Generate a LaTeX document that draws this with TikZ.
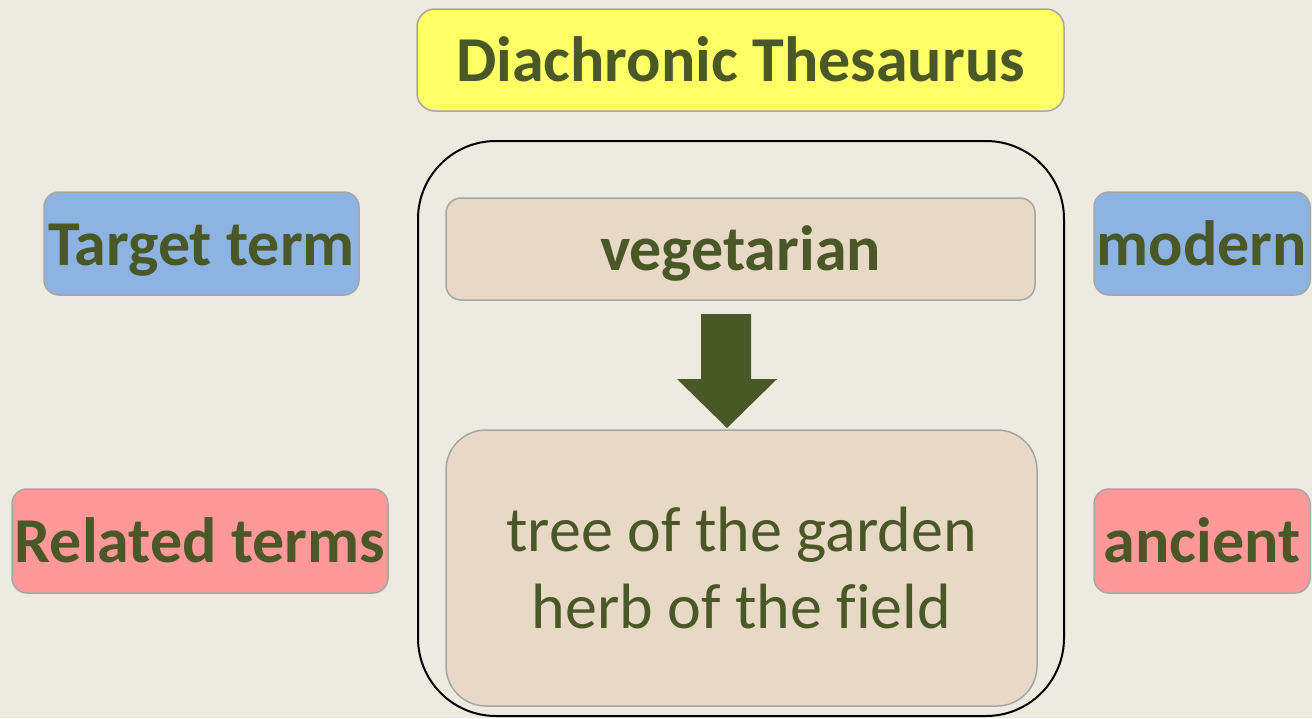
\documentclass[tikz,border=0pt]{standalone}
\usepackage{fontspec}
\setmainfont[Ligatures=NoCommon]{Carlito}
\definecolor{bg}{HTML}{EDEBE0}
\definecolor{txt}{HTML}{4A5726}
\definecolor{yel}{HTML}{FFFF66}
\definecolor{blu}{HTML}{8DB3E2}
\definecolor{pnk}{HTML}{FF9999}
\definecolor{bei}{HTML}{E8D9C6}
\definecolor{bord}{HTML}{A6A6A6}
\begin{document}
\begin{tikzpicture}[x=1pt,y=-1pt,
  box/.style={draw=bord,line width=1.5pt,rounded corners=15pt,inner sep=0pt,
    text=txt,font=\fontsize{64}{77}\selectfont\bfseries,
    text height=43pt,text depth=0pt},
]
\useasboundingbox[fill=bg] (0,0) rectangle (1312,718);
% outer frame
\draw[line width=2pt,rounded corners=78pt] (418,141) rectangle (1064,716);
\node[box,fill=yel,rounded corners=18pt,minimum width=647pt,minimum height=102pt] (title) at (740.5,60) {Diachronic Thesaurus};
\node[box,fill=bei,minimum width=589pt,minimum height=102pt] (veg) at (740.5,249) {vegetarian};
\node[box,fill=bei,rounded corners=40pt,minimum width=591pt,minimum height=276pt,
  font=\fontsize{64}{77}\selectfont,text height=120pt,text depth=0pt] (rel) at (741.5,568)
  {\vbox{\baselineskip=77pt
    \hbox to 560pt{\hfil tree of the garden\hfil}
    \hbox to 560pt{\hfil herb of the field\hfil}}};
\node[box,fill=blu,minimum width=315pt,minimum height=103pt] (tt) at (201.5,243.5) {Target term};
\node[box,fill=pnk,minimum width=376pt,minimum height=104pt] (rt) at (200,541) {Related terms};
\node[box,fill=blu,minimum width=216pt,minimum height=103pt] (mod) at (1202,243.5) {modern};
\node[box,fill=pnk,minimum width=216pt,minimum height=104pt] (anc) at (1202,541) {ancient};
% block arrow
\coordinate (tip) at (727,428);
\fill[txt] (701,314) -- (751,314) -- (751,379) -- (777,379) -- (tip) -- (677,379) -- (701,379) -- cycle;
\end{tikzpicture}
\end{document}
